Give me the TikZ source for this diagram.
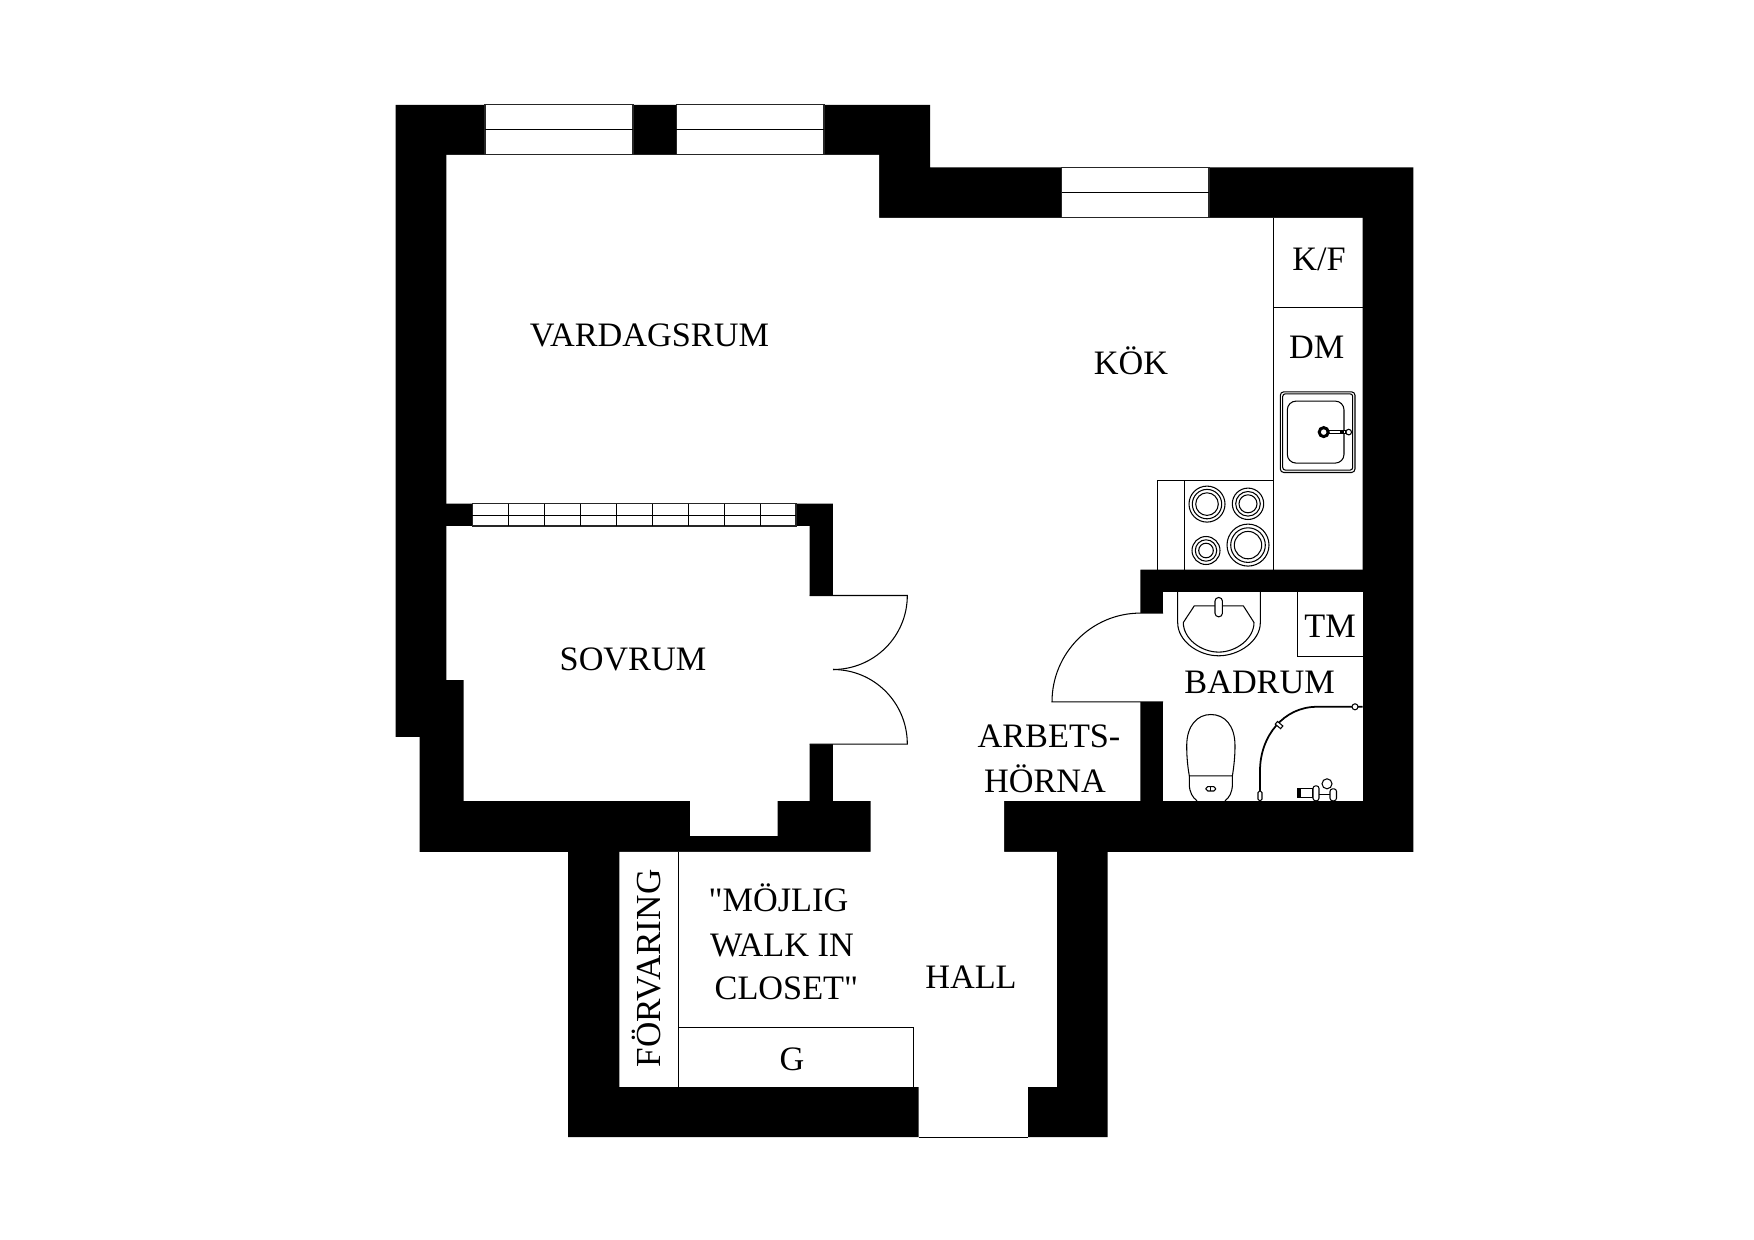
\documentclass[tikz,border=0pt]{standalone}
\usepackage{fontspec}
\setmainfont{Liberation Serif}[Ligatures=TeXOff]
\begin{document}
\begin{tikzpicture}[
    x=0.02cm, y=-0.02cm,
    wall/.style={fill=black, draw=none},
    room/.style={fill=white, draw=none},
    thin line/.style={draw=black, line width=0.6pt},
    fixture/.style={draw=black, fill=white, line width=0.6pt},
    pane/.style={draw=black!85, fill=white, line width=0.7pt},
    lbl/.style={font=\fontsize{19.5}{22}\selectfont, inner sep=0pt},
]
\useasboundingbox (0,-0.8) rectangle (1754,1239.2);
\fill[white] (0,-0.8) rectangle (1754,1239.2);

% --- Outer walls ---
\draw[wall] (395.5,104) -- (930,104) -- (930,166.5) -- (1413.3,166.5) -- (1413.3,851)
    -- (1107.5,851) -- (1107.5,1136.3) -- (568.2,1136.3) -- (568.2,851) -- (419.5,851)
    -- (419.5,736) -- (395.5,736) -- cycle;

% --- Open space: living room, kitchen, bedroom, hall ---
\fill[room] (446.3,154) -- (879,154) -- (879,217) -- (1362.7,217) -- (1362.7,568.7)
    -- (1140.3,568.7) -- (1140.3,800) -- (1004,800) -- (1004,851) -- (1056.8,851)
    -- (1056.8,1086) -- (1027.9,1086) -- (1027.9,1136.3) -- (918.6,1136.3) -- (918.6,1086)
    -- (619.3,1086) -- (619.3,851) -- (870.7,851) -- (870.7,800) -- (833,800) -- (833,743.3)
    -- (809.7,743.3) -- (809.7,800) -- (777.7,800) -- (777.7,835) -- (690,835) -- (690,800)
    -- (463.7,800) -- (463.7,679) -- (446.3,679) -- (446.3,525.3) -- (809.7,525.3)
    -- (809.7,594.7) -- (833,594.7) -- (833,502.7) -- (446.3,502.7) -- cycle;

% --- Bathroom ---
\fill[room] (1163,591) rectangle (1362.7,800);
\fill[room] (1139,612.3) rectangle (1164,701);

% --- Windows ---
\foreach \xa/\xb/\ya/\ym/\yb in {484.9/633/104/129/154, 676.2/823.9/104/129/154, 1061.5/1209/166.5/192/217} {
    \draw[pane] (\xa,\ya) rectangle (\xb,\yb);
    \draw[thin line] (\xa,\ym) -- (\xb,\ym);
}

% --- Closet in partition wall ---
\draw[pane] (472.3,502.7) rectangle (796,525.3);
\draw[thin line] (472.3,514.3) -- (796,514.3);
\foreach \xa in {508.3,544.3,...,760.3}
    \draw[thin line] (\xa,502.7) -- (\xa,525.3);

% --- Doors ---
\draw[thin line] (809.7,594.7) -- (907.3,594.7) .. controls (907.3,635.7) and (874,668.7) .. (833,668.7);
\draw[thin line] (809.7,743.3) -- (907.3,743.3) .. controls (907.3,701.7) and (874,668.7) .. (833,668.7);
\draw[thin line] (1163,701) -- (1052,701) .. controls (1052,652.3) and (1091.6,612.3) .. (1140.3,612.3) -- (1163,612.3);
\draw[thin line] (918.6,1136.3) -- (1027.9,1136.3);

% --- Kitchen counter ---
\draw[thin line] (1273.7,217) -- (1273.7,568.7);
\draw[thin line] (1273.7,306.5) -- (1362.7,306.5);
\draw[thin line] (1273.7,479.3) -- (1157.7,479.3) -- (1157.7,568.7);
\draw[thin line] (1184.3,479.3) -- (1184.3,568.7);

% --- Stove ---
\foreach \cx/\cy/\ra/\rb/\rc in {1207/503.3/18/14.7/11.3, 1248/503/15.7/12.3/9, 1206/549.7/14/10.7/7.3, 1248/544.3/21/17.3/13.7} {
    \draw[thin line] (\cx,\cy) circle[radius=\ra];
    \draw[thin line] (\cx,\cy) circle[radius=\rb];
    \draw[thin line] (\cx,\cy) circle[radius=\rc];
}

% --- Sink ---
\draw[thin line, rounded corners=2pt] (1280.3,391) rectangle (1355,471.7);
\draw[thin line, rounded corners=1.5pt] (1282.7,393) rectangle (1352.7,469.3);
\draw[thin line, rounded corners=5pt] (1287.3,400.3) rectangle (1344,462.3);
\draw[fixture] (1326,429.5) rectangle (1346,433);
\fill (1340,429.5) rectangle (1344,433);
\draw[fixture] (1348.7,431.3) circle[radius=2.8];
\draw[draw=black, fill=white, line width=1.7pt] (1323.7,431.3) circle[radius=4.5];

% --- Wash basin ---
\draw[thin line] (1177.7,591) -- (1177.7,622) .. controls (1177.7,640) and (1198,655) .. (1218.7,655)
    .. controls (1239,655) and (1260.3,640) .. (1260.3,622) -- (1260.3,591);
\draw[thin line] (1194.3,605) -- (1243.3,605) -- (1254,621.7) .. controls (1254,638) and (1236,651.3) .. (1218.7,651.3)
    .. controls (1201,651.3) and (1183.3,638) .. (1183.3,621.7) -- cycle;
\draw[fixture, rounded corners=2pt] (1215,596.7) rectangle (1222.4,616);

% --- Towel cabinet ---
\draw[thin line] (1297.7,591) -- (1297.7,656) -- (1362.7,656);

% --- Toilet ---
\draw[thin line] (1189.3,775) .. controls (1187.5,765) and (1186.7,755) .. (1186.7,745)
    .. controls (1186.7,725) and (1197,713.7) .. (1210.9,713.7)
    .. controls (1225,713.7) and (1235,725) .. (1235,745)
    .. controls (1235,755) and (1234,765) .. (1232.4,775) -- cycle;
\draw[thin line] (1189.3,775) -- (1189.3,783) .. controls (1189.3,792) and (1193,797) .. (1197,800);
\draw[thin line] (1232.4,775) -- (1232.4,783) .. controls (1232.4,792) and (1229,797) .. (1225,800);
\draw[fixture, rounded corners=1pt] (1206,785.8) rectangle (1215.5,790.2);
\draw[thin line] (1210.7,785.8) -- (1210.7,790.2);

% --- Shower ---
\draw[draw=black, line width=1pt] (1362.7,706) -- (1316.7,706) .. controls (1284,706) and (1260,735) .. (1260,770) -- (1260,800);
\draw[fixture] (1355,706) circle[radius=3];
\draw[fixture, rotate around={-40:(1279,724.3)}] (1275.5,722.5) rectangle (1282.5,726);
\draw[fixture, rounded corners=1pt] (1258,790) rectangle (1262,800);
\draw[fixture] (1298,788) rectangle (1313,797);
\fill (1298,788) rectangle (1301,797);
\draw[fixture, rounded corners=1.5pt] (1313,785) rectangle (1319,800);
\draw[fixture] (1327,783) circle[radius=5];
\draw[fixture, rounded corners=1.5pt] (1330,788) rectangle (1336.5,800);
\draw[thin line] (1319,794) -- (1330,794);

% --- Closets in hall ---
\draw[thin line] (678.2,851) -- (678.2,1086);
\draw[thin line] (678.2,1027) -- (913.6,1027) -- (913.6,1086);

% --- Room labels ---
\node[lbl] (vardagsrum) at (649.4,334.5) {VARDAGSRUM};
\node[lbl] (kok) at (1131,360.1) {KÖK};
\node[lbl] (kf) at (1319,258.4) {K/F};
\node[lbl] (dm) at (1316.6,346.8) {DM};
\node[lbl] (sovrum) at (633,659) {SOVRUM};
\node[lbl] (tm) at (1330,625) {TM};
\node[lbl] (badrum) at (1259.6,682) {BADRUM};
\node[lbl] (arbets) at (1049,736) {ARBETS-};
\node[lbl] (horna) at (1045,778) {HÖRNA};
\node[lbl] (mojlig) at (778.5,897.1) {"MÖJLIG};
\node[lbl] (walkin) at (782,945) {WALK IN};
\node[lbl] (closet) at (786.4,987.7) {CLOSET"};
\node[lbl] (hall) at (971,976.5) {HALL};
\node[lbl] (g) at (792,1059) {G};
\node[lbl, font=\fontsize{20}{22}\selectfont, rotate=90] (forvaring) at (647,967.6) {FÖRVARING};

\end{tikzpicture}
\end{document}
